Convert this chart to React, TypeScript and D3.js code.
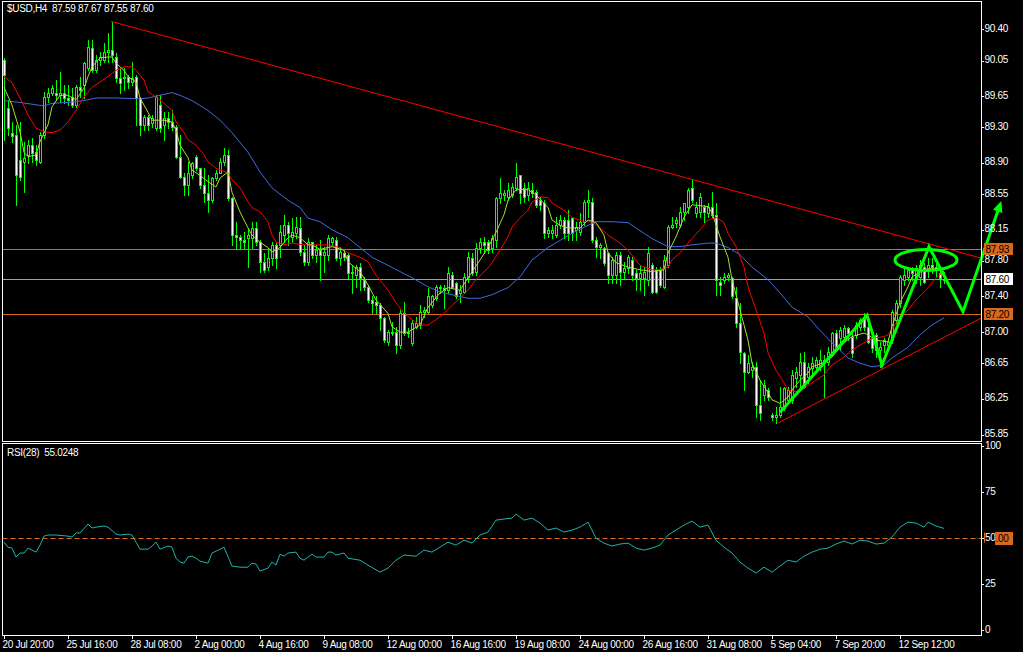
import React from 'react';
import * as d3 from 'd3';

// ---------- DATA ----------
const opens = [
90.06,89.52,89.24,89.21,88.93,88.91,88.99,89.10,89.02,88.91,
89.21,89.64,89.69,89.69,89.66,89.69,89.63,89.64,89.55,89.75,
89.78,89.97,90.19,89.94,90.06,90.06,90.15,90.17,90.09,89.85,
89.85,89.87,89.81,89.87,89.63,89.33,89.42,89.35,89.29,89.55,
89.33,89.41,89.36,89.30,88.97,88.74,88.65,88.76,88.97,88.84,
88.65,88.56,88.48,88.73,88.79,88.91,88.99,88.51,88.09,88.07,
88.03,88.06,88.06,88.17,88.01,87.79,87.73,87.83,87.98,87.98,
88.09,88.20,88.07,88.11,88.17,87.90,87.79,88.01,87.87,87.92,
87.87,87.87,88.01,88.03,87.83,87.89,87.87,87.66,87.64,87.73,
87.59,87.51,87.36,87.34,87.30,87.16,86.89,87.00,87.00,86.86,
87.21,86.99,86.88,87.06,87.08,87.23,87.23,87.30,87.38,87.51,
87.50,87.47,87.64,87.55,87.44,87.45,87.62,87.83,87.68,87.95,
88.01,88.01,87.95,88.03,88.51,88.54,88.52,88.54,88.62,88.76,
88.62,88.54,88.60,88.57,88.48,88.45,88.11,88.11,88.09,88.20,
88.26,88.26,88.28,88.15,88.12,88.24,88.46,88.46,88.03,87.96,
87.95,87.89,87.64,87.64,87.87,87.68,87.72,87.81,87.66,87.61,
87.61,87.59,87.75,87.70,87.70,87.51,87.75,88.18,88.23,88.20,
88.35,88.41,88.62,88.34,88.35,88.40,88.34,88.40,88.32,87.56,
87.59,87.62,87.61,87.38,87.10,86.77,86.55,86.57,86.61,86.18,
86.29,86.35,86.07,86.05,86.07,86.15,86.24,86.24,86.49,86.52,
86.66,86.50,86.60,86.61,86.61,86.69,86.66,86.78,86.99,86.93,
86.95,87.05,86.95,86.97,87.06,87.17,87.06,86.93,86.97,86.80,
86.86,86.86,86.91,87.14,87.33,87.59,87.62,87.70,87.61,87.62,
87.73,87.70,87.75,87.73,87.66,87.59];
const highs = [
90.08,89.61,89.36,89.33,89.36,89.14,89.16,89.18,89.10,89.25,
89.70,89.74,89.78,89.83,89.92,89.78,89.78,89.74,89.78,89.87,
90.03,90.28,90.28,90.11,90.15,90.25,90.36,90.48,90.13,89.97,
89.97,89.89,90.03,89.89,89.64,89.44,89.44,89.44,89.66,89.66,
89.47,89.47,89.49,89.33,89.21,88.79,88.91,88.91,88.99,88.84,
88.84,88.76,88.74,88.82,88.96,89.07,89.05,88.52,88.24,88.09,
88.12,88.17,88.24,88.24,88.03,87.89,87.95,88.01,88.01,88.20,
88.32,88.24,88.28,88.29,88.29,87.98,88.06,88.01,87.98,88.03,
87.96,88.09,88.07,88.07,87.96,87.92,87.89,87.75,87.75,87.78,
87.62,87.53,87.40,87.40,87.33,87.17,87.02,87.11,87.06,87.25,
87.34,87.05,87.14,87.17,87.30,87.28,87.50,87.42,87.53,87.53,
87.53,87.73,87.68,87.56,87.53,87.66,87.90,87.89,88.00,88.06,
88.07,88.03,88.09,88.52,88.73,88.60,88.67,88.67,88.90,88.76,
88.67,88.69,88.67,88.60,88.52,88.48,88.18,88.20,88.29,88.32,
88.29,88.37,88.29,88.24,88.34,88.48,88.60,88.51,88.07,88.00,
87.96,87.90,87.84,87.90,87.90,87.79,87.87,87.84,87.70,87.75,
87.73,87.96,87.78,87.73,87.73,87.87,88.20,88.29,88.29,88.40,
88.45,88.62,88.71,88.46,88.56,88.43,88.45,88.57,88.45,87.62,
87.66,87.66,87.62,87.51,87.33,86.78,86.74,86.66,86.66,86.46,
86.46,86.37,86.09,86.16,86.38,86.38,86.38,86.57,86.61,86.77,
86.78,86.65,86.72,86.72,86.80,86.74,86.83,87.00,87.02,87.06,
87.08,87.06,86.99,87.11,87.16,87.21,87.10,86.99,86.99,86.89,
86.93,86.93,87.25,87.36,87.64,87.72,87.73,87.73,87.75,87.81,
87.78,87.83,87.83,87.78,87.72,87.67];
const lows = [
89.16,89.21,89.14,88.43,88.71,88.57,88.90,88.91,88.88,88.90,
89.18,89.58,89.66,89.61,89.58,89.57,89.55,89.53,89.53,89.64,
89.63,89.94,89.92,89.92,90.00,90.03,90.03,90.03,89.81,89.69,
89.72,89.74,89.78,89.33,89.21,89.27,89.27,89.30,89.27,89.25,
89.16,89.29,89.27,88.96,88.73,88.54,88.54,88.73,88.82,88.62,
88.46,88.35,88.46,88.71,88.79,88.88,88.48,87.98,87.95,87.95,
87.95,87.73,87.95,87.98,87.68,87.68,87.70,87.75,87.72,87.84,
88.01,87.98,88.01,88.06,87.87,87.75,87.75,87.83,87.79,87.59,
87.68,87.81,87.98,87.81,87.75,87.81,87.61,87.44,87.51,87.47,
87.47,87.34,87.21,87.21,87.02,86.89,86.86,86.97,86.77,86.82,
86.97,86.95,86.86,87.05,87.05,87.17,87.21,87.28,87.36,87.44,
87.27,87.44,87.50,87.38,87.34,87.44,87.56,87.64,87.64,87.89,
87.89,87.89,87.90,87.96,88.45,88.48,88.48,88.52,88.60,88.45,
88.46,88.48,88.52,88.41,88.37,88.06,88.07,88.06,88.07,88.17,
88.06,88.03,88.03,88.03,88.09,88.20,88.29,88.01,87.84,87.83,
87.75,87.55,87.55,87.55,87.53,87.61,87.66,87.59,87.47,87.47,
87.42,87.53,87.44,87.44,87.51,87.50,87.73,88.17,88.18,88.18,
88.26,88.34,88.46,88.29,88.29,88.24,88.29,88.29,87.42,87.42,
87.55,87.59,87.38,87.06,86.65,86.35,86.54,86.50,86.05,86.01,
86.24,86.24,86.01,85.98,86.05,86.13,86.20,86.20,86.38,86.38,
86.37,86.43,86.50,86.57,86.57,86.27,86.63,86.74,86.80,86.80,
86.91,86.91,86.72,86.93,87.02,87.02,86.88,86.78,86.72,86.61,
86.78,86.82,86.88,87.10,87.28,87.53,87.59,87.59,87.55,87.53,
87.55,87.62,87.66,87.62,87.51,87.55];
const closes = [
89.89,89.29,89.20,88.76,88.74,88.96,89.10,89.01,88.93,89.21,
89.64,89.69,89.74,89.66,89.69,89.63,89.61,89.55,89.75,89.72,
90.02,90.20,89.94,90.06,90.09,90.15,90.17,90.11,89.85,89.80,
89.87,89.81,89.85,89.63,89.33,89.42,89.33,89.41,89.64,89.29,
89.41,89.36,89.30,88.97,88.74,88.65,88.79,88.90,88.84,88.65,
88.56,88.48,88.73,88.79,88.91,88.99,88.51,88.09,88.07,88.03,
88.01,88.09,88.17,88.01,87.79,87.70,87.83,87.98,87.83,88.12,
88.20,88.11,88.12,88.18,87.90,87.79,88.01,87.87,87.92,87.87,
87.90,88.06,88.06,87.83,87.90,87.84,87.66,87.68,87.73,87.61,
87.51,87.36,87.33,87.30,87.16,86.91,87.00,86.99,86.86,87.21,
86.99,87.00,87.10,87.10,87.23,87.25,87.40,87.40,87.51,87.50,
87.47,87.66,87.51,87.40,87.47,87.62,87.84,87.66,87.95,88.01,
87.98,87.92,88.06,88.51,88.56,88.56,88.60,88.63,88.74,88.56,
88.52,88.62,88.56,88.43,88.43,88.11,88.15,88.15,88.20,88.26,
88.11,88.11,88.11,88.18,88.24,88.46,88.48,88.03,87.96,87.98,
87.78,87.64,87.81,87.87,87.68,87.72,87.84,87.64,87.61,87.66,
87.68,87.89,87.45,87.45,87.53,87.81,88.18,88.20,88.26,88.35,
88.45,88.60,88.48,88.41,88.52,88.35,88.41,88.32,87.59,87.53,
87.62,87.64,87.40,87.10,86.78,86.55,86.65,86.61,86.18,86.09,
86.41,86.27,86.05,86.07,86.16,86.37,86.35,86.52,86.55,86.66,
86.38,86.61,86.65,86.69,86.69,86.65,86.78,86.99,86.83,87.02,
87.05,86.99,86.77,87.08,87.14,87.06,86.89,86.82,86.80,86.83,
86.91,86.89,87.23,87.33,87.62,87.64,87.70,87.66,87.72,87.75,
87.56,87.75,87.73,87.70,87.61,87.60];

// moving averages as [bar, value]
const fastMA: [number, number][] = [
[0,89.75],[2,89.55],[4,89.25],[5,89.02],[6,88.97],[8,88.99],[9,89.14],[11,89.33],[12,89.53],[14,89.66],
[16,89.66],[18,89.61],[20,89.74],[21,89.87],[22,89.98],[24,90.08],[26,90.09],[27,90.09],[28,90.02],[30,89.94],
[31,89.87],[33,89.81],[34,89.63],[36,89.47],[37,89.38],[40,89.38],[42,89.36],[43,89.27],[44,89.10],[46,88.96],
[47,88.82],[49,88.76],[51,88.69],[53,88.63],[54,88.73],[56,88.80],[57,88.57],[59,88.35],[61,88.17],[62,88.09],
[64,88.01],[66,87.95],[67,87.90],[69,87.95],[71,88.06],[72,88.09],[74,88.06],[76,87.98],[77,87.98],[79,87.93],
[82,87.96],[85,87.92],[86,87.79],[89,87.68],[91,87.53],[93,87.36],[96,87.21],[97,87.06],[99,87.00],[101,87.00],
[104,87.08],[106,87.28],[109,87.44],[111,87.50],[114,87.47],[116,87.61],[119,87.81],[121,87.95],[123,88.12],[125,88.32],
[126,88.48],[128,88.60],[131,88.60],[133,88.54],[136,88.40],[137,88.26],[139,88.20],[141,88.17],[144,88.17],[146,88.26],
[148,88.23],[150,88.09],[151,87.89],[153,87.78],[156,87.73],[159,87.70],[162,87.68],[165,87.70],[166,87.89],[168,88.07],
[170,88.29],[172,88.43],[176,88.41],[177,88.34],[179,88.07],[181,87.84],[182,87.59],[184,87.25],[186,86.91],[187,86.65],
[189,86.46],[191,86.32],[192,86.24],[194,86.20],[196,86.27],[197,86.35],[199,86.46],[201,86.54],[202,86.61],[205,86.66],
[207,86.72],[210,86.88],[212,86.95],[215,86.99],[216,86.97],[218,86.91],[221,86.89],[222,87.06],[224,87.33],[226,87.51],
[227,87.62],[230,87.70],[232,87.72],[235,87.68]];
const redMA: [number, number][] = [
[0,89.87],[2,89.80],[4,89.63],[6,89.44],[8,89.29],[10,89.25],[12,89.24],[14,89.27],[16,89.36],[18,89.49],
[20,89.64],[22,89.75],[24,89.81],[26,89.87],[28,89.94],[30,89.98],[32,89.98],[33,89.94],[35,89.83],[36,89.70],
[38,89.64],[40,89.57],[42,89.49],[43,89.36],[45,89.24],[46,89.16],[48,89.10],[50,88.99],[51,88.91],[53,88.84],
[56,88.79],[57,88.71],[59,88.62],[61,88.46],[62,88.40],[64,88.35],[66,88.24],[67,88.09],[68,88.01],[70,87.98],
[72,88.00],[75,87.98],[77,87.98],[79,87.98],[81,87.98],[84,87.95],[86,87.89],[89,87.84],[91,87.79],[93,87.64],
[96,87.47],[98,87.33],[100,87.21],[102,87.14],[104,87.08],[106,87.08],[108,87.14],[110,87.21],[112,87.30],[114,87.38],
[116,87.47],[118,87.59],[121,87.72],[122,87.78],[124,87.92],[126,88.07],[127,88.18],[129,88.28],[131,88.37],[132,88.46],
[134,88.52],[136,88.51],[137,88.45],[140,88.37],[142,88.29],[145,88.24],[147,88.24],[149,88.17],[151,88.09],[154,88.00],
[156,87.92],[159,87.75],[162,87.70],[164,87.70],[166,87.73],[167,87.81],[169,87.89],[171,88.00],[174,88.15],[176,88.26],
[178,88.29],[180,88.23],[181,88.11],[183,87.96],[185,87.73],[186,87.51],[188,87.25],[190,86.99],[191,86.77],[193,86.57],
[195,86.43],[196,86.35],[198,86.33],[200,86.37],[202,86.43],[205,86.52],[207,86.63],[210,86.72],[212,86.80],[215,86.88],
[217,86.93],[220,86.95],[221,86.97],[223,87.10],[226,87.25],[228,87.36],[231,87.50],[233,87.61],[235,87.68]];
const blueMA: [number, number][] = [
[0,89.60],[4,89.58],[7,89.56],[10,89.54],[12,89.57],[16,89.58],[20,89.60],[23,89.63],[28,89.63],[34,89.62],
[36,89.63],[39,89.66],[42,89.69],[44,89.66],[47,89.60],[51,89.49],[54,89.38],[57,89.24],[61,89.02],[64,88.80],
[67,88.62],[71,88.48],[74,88.40],[76,88.28],[79,88.24],[82,88.15],[86,88.06],[89,87.95],[92,87.84],[96,87.75],
[99,87.68],[102,87.61],[106,87.51],[109,87.45],[112,87.42],[116,87.38],[119,87.38],[122,87.42],[126,87.50],[129,87.62],
[132,87.81],[136,87.95],[139,88.03],[142,88.11],[146,88.20],[148,88.24],[152,88.24],[156,88.23],[159,88.14],[162,88.05],
[166,87.96],[169,87.96],[172,87.98],[176,88.00],[178,88.00],[181,87.95],[184,87.87],[187,87.73],[191,87.59],[194,87.44],
[197,87.28],[201,87.17],[204,87.02],[207,86.88],[211,86.71],[214,86.65],[217,86.61],[220,86.63],[222,86.71],[226,86.83],
[229,86.97],[232,87.08],[235,87.16]];
const rsi: [number, number][] = [
[0,47.5],[1,44.8],[2,44.3],[3,39.4],[4,41.6],[5,41.6],[6,44.3],[7,43.2],[8,42.1],[9,45.9],
[10,50.8],[11,51.4],[13,51.4],[16,50.8],[17,50.3],[18,52.5],[19,52.5],[21,57.4],[22,55.2],[23,55.7],
[25,56.3],[26,55.7],[28,51.9],[29,51.4],[31,51.9],[32,51.4],[33,47.5],[34,43.7],[36,43.7],[37,45.4],
[38,47.5],[39,43.7],[41,45.4],[42,44.8],[43,38.8],[44,36.7],[45,36.1],[46,39.4],[47,39.9],[48,38.8],
[49,37.2],[51,36.1],[52,41.6],[53,42.6],[55,44.8],[57,34.5],[59,33.9],[61,33.9],[62,36.1],[63,35.6],
[64,31.8],[66,33.4],[67,36.7],[68,35.0],[69,41.0],[70,39.9],[71,41.6],[73,42.1],[74,38.8],[75,37.7],
[77,41.0],[78,39.4],[80,39.4],[81,42.1],[82,42.1],[83,40.5],[85,41.6],[86,38.8],[89,37.7],[91,35.0],
[94,31.2],[96,33.4],[98,37.7],[100,40.5],[103,39.9],[105,43.2],[107,42.1],[109,44.8],[111,47.5],[113,45.9],
[115,48.6],[117,47.0],[119,51.4],[121,53.0],[123,59.5],[125,60.1],[127,60.6],[128,62.8],[130,59.5],[132,60.6],
[134,57.9],[136,54.1],[138,55.2],[140,53.0],[142,54.1],[144,55.7],[146,58.4],[148,49.7],[150,47.0],[152,45.4],
[154,46.5],[156,47.0],[158,44.3],[160,43.2],[162,44.3],[164,45.9],[166,51.4],[168,54.1],[170,56.8],[172,59.0],
[174,55.7],[176,56.8],[178,48.6],[180,44.8],[182,41.6],[184,36.7],[186,33.4],[188,30.7],[190,33.9],[192,31.2],
[194,34.5],[196,37.7],[198,36.7],[200,39.9],[202,42.1],[204,43.7],[206,44.3],[208,46.5],[210,48.1],[212,46.5],
[214,48.6],[216,48.1],[218,46.5],[220,47.0],[222,50.3],[224,55.7],[226,58.4],[228,57.9],[230,55.7],[231,58.4],
[233,56.3],[235,55.0]];

const priceTicks = [90.40, 90.05, 89.65, 89.30, 88.90, 88.55, 88.15, 87.80, 87.40, 87.00, 86.65, 86.25, 85.85];
const rsiTicks = [100, 75, 50, 25, 0];
const timeTickBars = [0, 16, 32, 48, 64, 80, 96, 112, 128, 144, 160, 176, 192, 208, 224];
const timeTickLabels = ['20 Jul 20:00', '25 Jul 16:00', '28 Jul 08:00', '2 Aug 00:00', '4 Aug 16:00', '9 Aug 08:00',
  '12 Aug 00:00', '16 Aug 16:00', '19 Aug 08:00', '24 Aug 00:00', '26 Aug 16:00', '31 Aug 08:00', '5 Sep 04:00',
  '7 Sep 20:00', '12 Sep 12:00'];

const resistanceLine: [number, number][] = [[26.75, 90.49], [244.4, 87.83]];
const supportLine: [number, number][] = [[193.5, 85.98], [244.4, 87.16]];
const levelLines = [{ v: 87.93, kind: 'orange' }, { v: 87.20, kind: 'orange' }, { v: 87.60, kind: 'current' }];
const forecastPath: [number, number][] = [[194, 86.10], [215.75, 87.19], [219.5, 86.63], [231.25, 87.96], [239.75, 87.23], [249, 88.43]];
const ellipseMark = { bar: 230.5, price: 87.81, halfBars: 7.75, halfPrice: 0.118 };

const titleText = '$USD,H4  87.59 87.67 87.55 87.60';
const rsiTitle = 'RSI(28)  55.0248';

const FONT = 'Liberation Sans, Arial, sans-serif';
const LIME = '#00ff00';
const ORANGE = '#d9681e';

export default function App() {
  const x = d3.scaleLinear().domain([0, 244.375]).range([4, 981.5]);
  const y = d3.scaleLinear().domain([85.85, 90.40]).range([434.5, 29.4]);
  const yr = d3.scaleLinear().domain([0, 100]).range([629.5, 445.7]);

  const line = d3.line<[number, number]>().x(d => x(d[0])).y(d => y(d[1]));
  const rline = d3.line<[number, number]>().x(d => x(d[0])).y(d => yr(d[1]));

  const candles = closes.map((c, i) => {
    const o = opens[i];
    const cx = Math.round(x(i));
    const top = Math.round(y(Math.max(o, c)));
    const bot = Math.round(y(Math.min(o, c)));
    const bear = c < o;
    return (
      <g key={i}>
        <line x1={cx + 0.5} x2={cx + 0.5} y1={Math.round(y(highs[i]))} y2={Math.round(y(lows[i])) + 1} stroke={LIME} strokeWidth={1} />
        {bot - top >= 1 ? (
          <rect x={cx - 0.5} y={top + 0.5} width={2} height={bot - top} fill={bear ? '#ffffff' : '#000000'} stroke={LIME} strokeWidth={1} />
        ) : (
          <line x1={cx - 1} x2={cx + 2} y1={top + 0.5} y2={top + 0.5} stroke={LIME} strokeWidth={1} />
        )}
      </g>
    );
  });

  // arrow head for forecast path
  const n = forecastPath.length;
  const pA = [x(forecastPath[n - 2][0]), y(forecastPath[n - 2][1])];
  const pB = [x(forecastPath[n - 1][0]), y(forecastPath[n - 1][1])];
  const ang = Math.atan2(pB[1] - pA[1], pB[0] - pA[0]);
  const hl = 11, hw = 5;
  const tip = [pB[0] + Math.cos(ang) * 4, pB[1] + Math.sin(ang) * 4];
  const base = [tip[0] - Math.cos(ang) * hl, tip[1] - Math.sin(ang) * hl];
  const headPts = [
    tip,
    [base[0] + Math.cos(ang + Math.PI / 2) * hw, base[1] + Math.sin(ang + Math.PI / 2) * hw],
    [base[0] - Math.cos(ang + Math.PI / 2) * hw, base[1] - Math.sin(ang + Math.PI / 2) * hw],
  ].map(p => p.join(',')).join(' ');

  const ecx = x(ellipseMark.bar);
  const ecy = y(ellipseMark.price);
  const erx = x(ellipseMark.bar + ellipseMark.halfBars) - ecx;
  const ery = y(ellipseMark.price - ellipseMark.halfPrice) - ecy;

  const textStyle = { fontFamily: FONT, fontSize: 10, letterSpacing: -0.3, whiteSpace: 'pre' } as React.CSSProperties;

  return (
    <svg width={1023} height={652} style={{ position: 'fixed', left: 0, top: 0, background: '#000' }}>
      <rect x={0} y={0} width={1023} height={652} fill="#000" />
      <defs>
        <clipPath id="mainClip"><rect x={3} y={2} width={978} height={439} /></clipPath>
        <clipPath id="rsiClip"><rect x={3} y={444} width={978} height={191} /></clipPath>
      </defs>

      {/* horizontal levels */}
      {levelLines.map((l, i) => (
        <line key={i} x1={2.5} x2={981.5} y1={Math.round(y(l.v)) + 0.5} y2={Math.round(y(l.v)) + 0.5}
          stroke={l.kind === 'orange' ? ORANGE : '#a0a0a0'} strokeWidth={1} />
      ))}

      <g clipPath="url(#mainClip)">
        {candles}
        <path d={line(blueMA) || ''} fill="none" stroke="#4169e1" strokeWidth={1} />
        <path d={line(redMA) || ''} fill="none" stroke="#ff0000" strokeWidth={1} />
        <path d={line(fastMA) || ''} fill="none" stroke="#a6e22e" strokeWidth={1} />
        <path d={line(resistanceLine) || ''} fill="none" stroke="#ff0000" strokeWidth={1} />
        <path d={line(supportLine) || ''} fill="none" stroke="#ff0000" strokeWidth={1} />
      </g>

      {/* hand-drawn forecast */}
      <path d={line(forecastPath) || ''} fill="none" stroke={LIME} strokeWidth={3} strokeLinejoin="miter" />
      <polygon points={headPts} fill={LIME} />
      <ellipse cx={ecx} cy={ecy} rx={erx} ry={ery} fill="none" stroke={LIME} strokeWidth={3} />

      {/* frames */}
      <rect x={2.5} y={1.5} width={979} height={440} fill="none" stroke="#fff" strokeWidth={1} />
      <rect x={2.5} y={443.5} width={979} height={192} fill="none" stroke="#fff" strokeWidth={1} />

      {/* price axis */}
      {priceTicks.map((t, i) => (
        <g key={i}>
          <line x1={981.5} x2={984} y1={Math.round(y(t)) + 0.5} y2={Math.round(y(t)) + 0.5} stroke="#fff" />
          <text x={984.5} y={y(t) + 2.5} fill="#fff" style={textStyle}>{t.toFixed(2)}</text>
        </g>
      ))}
      {levelLines.map((l, i) => (
        <g key={'lb' + i}>
          <rect x={984} y={Math.round(y(l.v)) - 6} width={29} height={12}
            fill={l.kind === 'orange' ? ORANGE : '#ffffff'} />
          <text x={985.5} y={y(l.v) + 4} fill="#000" style={textStyle}>{l.v.toFixed(2)}</text>
        </g>
      ))}

      {/* RSI panel */}
      <text x={7} y={456} fill="#fff" style={textStyle} xmlSpace="preserve">{rsiTitle}</text>
      <line x1={2.5} x2={981.5} y1={Math.round(yr(50)) + 0.5} y2={Math.round(yr(50)) + 0.5} stroke={ORANGE} strokeDasharray="5,3" />
      <g clipPath="url(#rsiClip)">
        <path d={rline(rsi) || ''} fill="none" stroke="#20b2aa" strokeWidth={1} />
      </g>
      {rsiTicks.map((t, i) => (
        <g key={i}>
          <line x1={981.5} x2={984} y1={Math.round(yr(t)) + 0.5} y2={Math.round(yr(t)) + 0.5} stroke="#fff" />
          <text x={985} y={yr(t) + 3.5} fill="#fff" style={textStyle}>{String(t)}</text>
        </g>
      ))}
      <line x1={984.5} x2={984.5} y1={yr(50) - 5} y2={yr(50) + 5} stroke={ORANGE} />
      <rect x={995} y={Math.round(yr(50)) - 6} width={18} height={13} fill={ORANGE} />
      <text x={995.5} y={yr(50) + 4} fill="#000" style={textStyle}>.00</text>

      {/* time axis */}
      {timeTickBars.map((b, i) => (
        <g key={i}>
          <line x1={Math.round(x(b)) + 0.5} x2={Math.round(x(b)) + 0.5} y1={635.5} y2={639} stroke="#fff" />
          <text x={x(b) - 1.5} y={648} fill="#fff" style={textStyle}>{timeTickLabels[i]}</text>
        </g>
      ))}

      <text x={7} y={12} fill="#fff" style={textStyle} xmlSpace="preserve">{titleText}</text>
    </svg>
  );
}
